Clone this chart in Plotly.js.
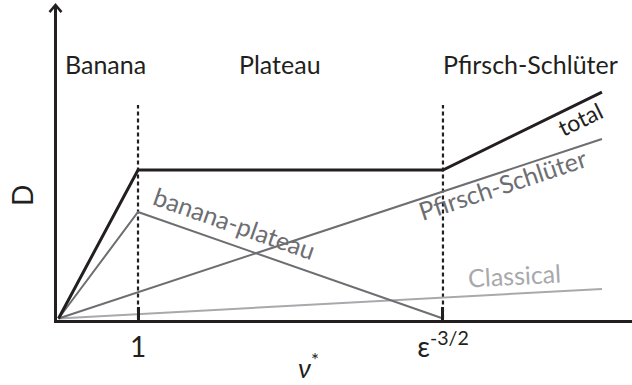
<!DOCTYPE html>
<html>
<head>
<meta charset="utf-8">
<script src="https://cdn.plot.ly/plotly-3.0.1.min.js"></script>
<style>html,body{margin:0;padding:0;background:#fff;}#chart{width:632px;height:385px;}</style>
</head>
<body>
<div id="chart"></div>
<script>
// ---- data (schematic units: nu* = 1 at first boundary, plateau D = 1) ----
var nuOne = 1;
var nuEps = 4.836;          // epsilon^-3/2
var nuEnd = 6.836;

var totalX = [0, nuOne, nuEps, nuEnd];
var totalY = [0, 1, 1, 1.525];

var bananaPlateauX = [0, nuOne, nuEps];
var bananaPlateauY = [0, 0.717, 0];

var pfirschX = [0, nuEnd];
var pfirschY = [0, 1.209];

var classicalX = [0, nuEnd];
var classicalY = [0, 0.199];

var regimeLabels = ['Banana', 'Plateau', 'Pfirsch-Schlüter'];
var tickVals = [nuOne, nuEps];
var tickText = ['1', 'ε<sup>-3/2</sup>'];
var boundaryTop = 1.438;

// ---- styles ----
var black = '#231f20', gray = '#6d6e71', light = '#a7a9ac';
var FONT = 'Lato, "Open Sans", sans-serif';

var traces = [
  {x: classicalX, y: classicalY, mode: 'lines', line: {color: light, width: 2}, hoverinfo: 'skip'},
  {x: pfirschX, y: pfirschY, mode: 'lines', line: {color: gray, width: 2}, hoverinfo: 'skip'},
  {x: bananaPlateauX, y: bananaPlateauY, mode: 'lines', line: {color: gray, width: 2}, hoverinfo: 'skip'},
  {x: totalX, y: totalY, mode: 'lines', line: {color: black, width: 3}, hoverinfo: 'skip'}
];

var shapes = tickVals.map(function (v) {
  return {type: 'line', xref: 'x', yref: 'y', x0: v, x1: v, y0: 0, y1: boundaryTop,
          layer: 'below', line: {color: black, width: 2.2, dash: '4px,3px'}};
});
// arrow head on the D axis (open chevron)
shapes.push({type: 'path', xref: 'paper', yref: 'paper',
  path: 'M -0.0130,0.9775 L -0.0026,1.0 L 0.0078,0.9775',
  line: {color: black, width: 2.5}});

function ann(text, x, y, opts) {
  var a = {text: text, x: x, y: y, xref: 'x', yref: 'y', showarrow: false,
           xanchor: 'center', yanchor: 'middle',
           font: {family: FONT, size: 22, color: black}};
  for (var k in opts) a[k] = opts[k];
  return a;
}

var annotations = [
  ann(regimeLabels[0], 0.597, 1.714, {font: {family: FONT, size: 25, color: black}}),
  ann(regimeLabels[1], 2.786, 1.714, {font: {family: FONT, size: 25, color: black}}),
  ann(regimeLabels[2], 5.943, 1.714, {font: {family: FONT, size: 25, color: black}}),
  ann('banana-plateau', 2.220, 0.640, {textangle: 19.3, font: {family: FONT, size: 25, color: gray}}),
  ann('Pfirsch-Schlüter', 5.591, 0.906, {textangle: -18.3, font: {family: FONT, size: 25, color: gray}}),
  ann('total', 6.560, 1.344, {textangle: -25.8, font: {family: FONT, size: 23, color: black}}),
  ann('Classical', 5.740, 0.293, {textangle: -3.1, font: {family: FONT, size: 25, color: light}}),
  ann('<i>ν</i><sup>*</sup>', 0.438, -0.2063, {xref: 'paper', yref: 'paper', yanchor: 'bottom', borderpad: 0,
      font: {family: FONT, size: 27, color: black}}),
  ann('D', -0.0609, 0.397, {xref: 'paper', yref: 'paper', textangle: -90, font: {family: FONT, size: 28, color: black}})
];

var layout = {
  width: 632, height: 385,
  margin: {l: 57, r: 0, t: 5, b: 65, pad: 0},
  paper_bgcolor: '#ffffff', plot_bgcolor: '#ffffff',
  showlegend: false,
  font: {family: FONT, color: black},
  xaxis: {
    range: [-0.019, 7.214], showgrid: false, zeroline: false,
    showline: true, linecolor: black, linewidth: 3,
    tickmode: 'array', tickvals: tickVals, ticktext: tickText,
    ticks: 'inside', ticklen: 13, tickwidth: 3, tickcolor: black,
    tickfont: {family: FONT, size: 28, color: black},
    layer: 'above traces'
  },
  yaxis: {
    range: [-0.0101, 2.111], showgrid: false, zeroline: false,
    showline: true, linecolor: black, linewidth: 3,
    showticklabels: false, ticks: ''
  },
  shapes: shapes,
  annotations: annotations
};

Plotly.newPlot('chart', traces, layout, {staticPlot: true, displayModeBar: false});
</script>
</body>
</html>
